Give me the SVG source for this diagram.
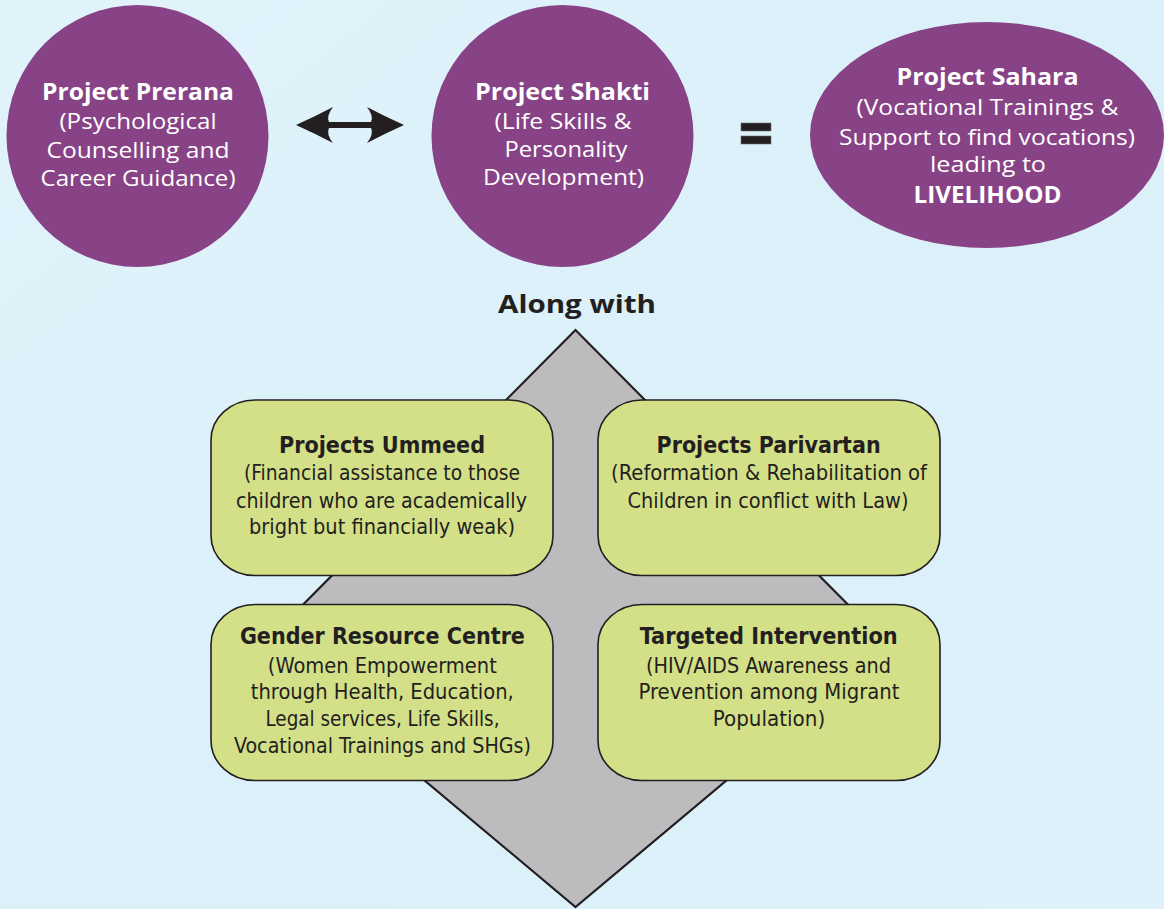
<svg xmlns="http://www.w3.org/2000/svg" width="1164" height="909" viewBox="0 0 1164 909">
<defs>
<linearGradient id="bg" x1="0" y1="0" x2="1" y2="1">
<stop offset="0" stop-color="#e1f3fb"/>
<stop offset="0.5" stop-color="#dbf0f9"/>
<stop offset="1" stop-color="#def1fa"/>
</linearGradient>
<style>
.purple{fill:#874386;}
.wt{fill:#ffffff;font-family:"Open Sans","Noto Sans","DejaVu Sans",sans-serif;text-anchor:middle;}
.wb{font-weight:bold;font-size:23px;}
.wr{font-size:21.5px;}
.box{fill:#d4e088;stroke:#231f20;stroke-width:1.6;}
.bt{fill:#231f20;font-family:"Liberation Sans Narrow","DejaVu Sans Condensed","Roboto Condensed","Liberation Sans",sans-serif;text-anchor:middle;font-stretch:condensed;}
.btb{font-weight:bold;font-size:23px;}
.btr{font-size:20.5px;}
</style>
</defs>
<rect x="0" y="0" width="1164" height="909" fill="url(#bg)"/>

<g id="node-prerana">
<circle class="purple" cx="137.5" cy="136" r="131"/>
<text class="wt wb" x="138" y="100" textLength="192" lengthAdjust="spacingAndGlyphs">Project Prerana</text>
<text class="wt wr" x="138" y="129" textLength="157" lengthAdjust="spacingAndGlyphs">(Psychological</text>
<text class="wt wr" x="138" y="157.5" textLength="183" lengthAdjust="spacingAndGlyphs">Counselling and</text>
<text class="wt wr" x="138" y="186" textLength="195" lengthAdjust="spacingAndGlyphs">Career Guidance)</text>
</g>

<g id="node-shakti">
<circle class="purple" cx="562.5" cy="136" r="131"/>
<text class="wt wb" x="562.5" y="99.5" textLength="175" lengthAdjust="spacingAndGlyphs">Project Shakti</text>
<text class="wt wr" x="563" y="128.5" textLength="137" lengthAdjust="spacingAndGlyphs">(Life Skills &amp;</text>
<text class="wt wr" x="566" y="157" textLength="123" lengthAdjust="spacingAndGlyphs">Personality</text>
<text class="wt wr" x="563.5" y="185" textLength="161" lengthAdjust="spacingAndGlyphs">Development)</text>
</g>

<g id="node-sahara">
<ellipse class="purple" cx="987" cy="135" rx="177" ry="113"/>
<text class="wt wb" x="987.5" y="85" textLength="182" lengthAdjust="spacingAndGlyphs">Project Sahara</text>
<text class="wt wr" x="987.5" y="115" textLength="262" lengthAdjust="spacingAndGlyphs">(Vocational Trainings &amp;</text>
<text class="wt wr" x="987" y="144.5" textLength="296" lengthAdjust="spacingAndGlyphs">Support to find vocations)</text>
<text class="wt wr" x="988" y="172" textLength="116" lengthAdjust="spacingAndGlyphs">leading to</text>
<text class="wt wb" x="987.5" y="203" textLength="148" lengthAdjust="spacingAndGlyphs">LIVELIHOOD</text>
</g>

<g id="connectors">
<path d="M296,125 Q316,116 333,107 Q326,116 329,122 L371,122 Q374,116 367,107 Q384,116 404,125 Q384,134 367,143 Q374,134 371,128 L329,128 Q326,134 333,143 Q316,134 296,125 Z" fill="#231f20"/>
</g>

<g id="equals">
<rect x="741" y="123" width="30" height="8" fill="#231f20" stroke="#6d6d6d" stroke-width="0.6"/>
<rect x="741" y="136" width="30" height="8" fill="#231f20" stroke="#6d6d6d" stroke-width="0.6"/>
</g>

<g id="label-along-with">
<text x="577" y="313" font-family="'Open Sans','Noto Sans','DejaVu Sans',sans-serif" font-weight="bold" font-size="25" fill="#231f20" text-anchor="middle" textLength="158" lengthAdjust="spacingAndGlyphs">Along with</text>
</g>

<g id="diamond">
<polygon points="575.5,330 263,645 575.5,907 888,645" fill="#bcbcbe" stroke="#231f20" stroke-width="2.2" stroke-linejoin="miter"/>
</g>

<g id="node-ummeed">
<rect class="box" x="211" y="400" width="342" height="175.5" rx="44" ry="40"/>
<text class="bt btb" x="382" y="453" textLength="206" lengthAdjust="spacingAndGlyphs">Projects Ummeed</text>
<text class="bt btr" x="382" y="480" textLength="276" lengthAdjust="spacingAndGlyphs">(Financial assistance to those</text>
<text class="bt btr" x="381.5" y="507.5" textLength="291" lengthAdjust="spacingAndGlyphs">children who are academically</text>
<text class="bt btr" x="382" y="534" textLength="266" lengthAdjust="spacingAndGlyphs">bright but financially weak)</text>
</g>

<g id="node-parivartan">
<rect class="box" x="598" y="400" width="342" height="175.5" rx="44" ry="40"/>
<text class="bt btb" x="768.6" y="453" textLength="224" lengthAdjust="spacingAndGlyphs">Projects Parivartan</text>
<text class="bt btr" x="769" y="480" textLength="316" lengthAdjust="spacingAndGlyphs">(Reformation &amp; Rehabilitation of</text>
<text class="bt btr" x="768" y="507.5" textLength="281" lengthAdjust="spacingAndGlyphs">Children in conflict with Law)</text>
</g>

<g id="node-gender-resource-centre">
<rect class="box" x="211" y="604.5" width="342" height="176" rx="44" ry="40"/>
<text class="bt btb" x="382.4" y="644" textLength="285" lengthAdjust="spacingAndGlyphs">Gender Resource Centre</text>
<text class="bt btr" x="382.3" y="672.5" textLength="229" lengthAdjust="spacingAndGlyphs">(Women Empowerment</text>
<text class="bt btr" x="382.3" y="699" textLength="263" lengthAdjust="spacingAndGlyphs">through Health, Education,</text>
<text class="bt btr" x="382.5" y="726" textLength="234" lengthAdjust="spacingAndGlyphs">Legal services, Life Skills,</text>
<text class="bt btr" x="382.5" y="752.5" textLength="297" lengthAdjust="spacingAndGlyphs">Vocational Trainings and SHGs)</text>
</g>

<g id="node-targeted-intervention">
<rect class="box" x="598" y="604.5" width="342" height="176" rx="44" ry="40"/>
<text class="bt btb" x="768.8" y="644" textLength="258" lengthAdjust="spacingAndGlyphs">Targeted Intervention</text>
<text class="bt btr" x="768.4" y="672.5" textLength="245" lengthAdjust="spacingAndGlyphs">(HIV/AIDS Awareness and</text>
<text class="bt btr" x="769" y="699" textLength="261" lengthAdjust="spacingAndGlyphs">Prevention among Migrant</text>
<text class="bt btr" x="769" y="726" textLength="112.5" lengthAdjust="spacingAndGlyphs">Population)</text>
</g>
</svg>
